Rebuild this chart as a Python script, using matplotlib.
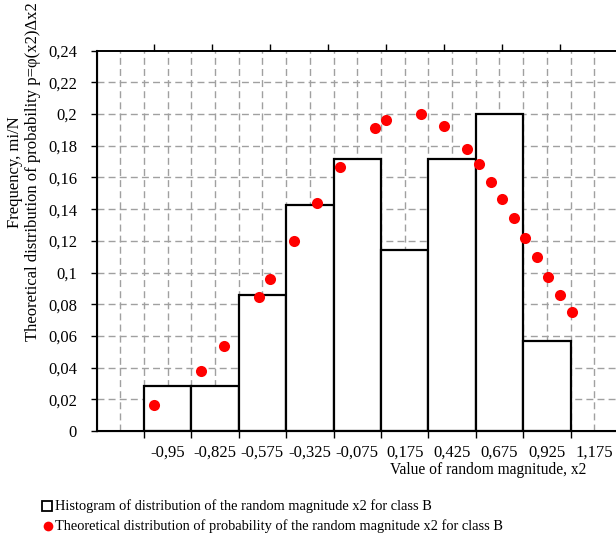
import numpy as np
import matplotlib
matplotlib.use('Agg')
import matplotlib.pyplot as plt
from matplotlib.lines import Line2D

plt.rcParams['font.family'] = ['Liberation Serif', 'DejaVu Serif']

# histogram (class B), one empty category at each end
bin_labels = ['', '-0,95', '-0,825', '-0,575', '-0,325', '-0,075', '0,175', '0,425', '0,675', '0,925', '1,175']
freq = [0, 0.0286, 0.0286, 0.0857, 0.1429, 0.1714, 0.1143, 0.1714, 0.2, 0.0571, 0]

# theoretical probability, plotted on the secondary x axis (units 0..9)
theo_x = [1.0, 1.8, 2.2, 2.8, 3.0, 3.4, 3.8, 4.2, 4.8, 5.0, 5.6, 6.0, 6.4, 6.6, 6.8, 7.0, 7.2, 7.4, 7.6, 7.8, 8.0, 8.2]
theo_p = [0.0164, 0.0377, 0.0538, 0.0844, 0.0959, 0.1199, 0.144, 0.1664, 0.1914, 0.1962, 0.2, 0.1924,
          0.1777, 0.1683, 0.1571, 0.1462, 0.1342, 0.1216, 0.1096, 0.0974, 0.0858, 0.0749]

W, H = 616, 544
fig = plt.figure(figsize=(W / 100, H / 100), dpi=100)
ax = fig.add_axes([96.5 / W, (H - 431) / H, 521.5 / W, (431 - 50.7) / H])

n = len(freq)
ax.set_xlim(0, n)
ax.set_ylim(0, 0.24)

# grid (dashed grey, every half category and every 0.02)
grid_kw = dict(color='#a0a0a0', lw=1, dashes=(5, 3), zorder=0)
for gx in np.arange(0.5, n, 0.5):
    ax.axvline(gx, **grid_kw)
for gy in np.arange(0.02, 0.235, 0.02):
    ax.axhline(gy, **grid_kw)

centers = np.arange(n) + 0.5
ax.bar(centers[1:-1], freq[1:-1], width=1.0, facecolor='white', edgecolor='black', linewidth=1.6, zorder=2)

ax.set_xticks(np.arange(1, n))
ax.set_xticklabels([])
ax.set_xticks(centers, minor=True)
ax.set_xticklabels(bin_labels, minor=True, fontsize=12)
ax.tick_params(axis='x', which='major', direction='out', length=5, width=1)
ax.tick_params(axis='x', which='minor', length=0, pad=10)

yt = np.arange(0, 0.241, 0.02)
ax.set_yticks(yt)
ax.set_yticklabels([('%g' % round(v, 2)).replace('.', ',') for v in yt], fontsize=12)
ax.tick_params(axis='y', direction='out', length=4, width=1, pad=10)

for s in ['left', 'bottom']:
    ax.spines[s].set_linewidth(1.5)
ax.spines['right'].set_visible(False)
ax.spines['top'].set_linewidth(1.2)

# secondary x axis for the theoretical points
ax2 = ax.twiny()
ax2.set_xlim(0, 9)
ax2.set_ylim(0, 0.24)
ax2.set_xticks(np.arange(1, 9))
ax2.set_xticklabels([])
ax2.tick_params(axis='x', direction='out', length=5, width=1)
ax2.spines['right'].set_visible(False)
ax2.spines['top'].set_linewidth(1.2)
ax2.plot(theo_x, theo_p, 'o', color='#ff0000', markersize=8, markeredgewidth=0, zorder=3)

fig.text(488 / W, 1 - 470 / H, 'Value of random magnitude, x2', ha='center', va='center', fontsize=11.2)
fig.text(24 / W, 1 - 172 / H, 'Frequency, mi/N\nTheoretical distribution of probability p=φ(x2)Δx2',
         rotation=90, ha='center', va='center', multialignment='center', fontsize=12, linespacing=1.15)

# legend
fig.add_artist(Line2D([47 / W], [1 - 506 / H], marker='s', markersize=7, markerfacecolor='white',
                      markeredgecolor='black', markeredgewidth=1.3, transform=fig.transFigure))
fig.text(55 / W, 1 - 506 / H, 'Histogram of distribution of the random magnitude x2 for class B',
         ha='left', va='center', fontsize=10.4)
fig.add_artist(Line2D([48 / W], [1 - 526 / H], marker='o', markersize=7, color='#ff0000',
                      markeredgewidth=0, transform=fig.transFigure))
fig.text(55 / W, 1 - 526 / H, 'Theoretical distribution of probability of the random magnitude x2 for class B',
         ha='left', va='center', fontsize=10.4)

fig.savefig('out.png', dpi=100)
